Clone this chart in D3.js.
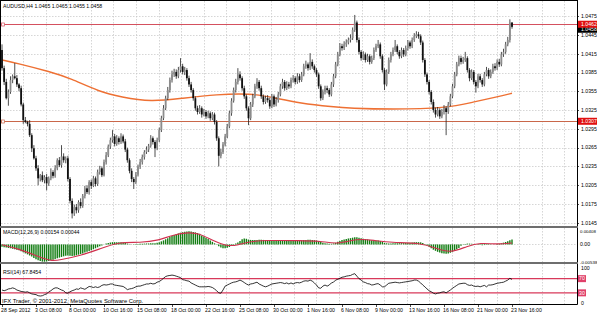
<!DOCTYPE html>
<html>
<head>
<meta charset="utf-8">
<script src="https://cdnjs.cloudflare.com/ajax/libs/d3/7.8.5/d3.min.js"></script>
<style>
  body { margin: 0; background: #fff; }
  svg { display: block; font-family: "Liberation Sans", Arial, sans-serif; }
  .lbl { font-size: 5.2px; fill: #000; }
  .grid line { stroke: #c4c4c4; stroke-width: 0.7; stroke-dasharray: 1.5,1.5; }
</style>
</head>
<body>
<div id="chart"></div>
<script>
// ---- data (prices stored as pips above 1.0000) ----
const symbolTitle = "AUDUSD,H4  1.0465 1.0465 1.0455 1.0458";
const firstOpen = 421;
const closes = [
392,370,344,354,373,379,376,366,360,334, 309,306,303,285,264,248,232,216,221,213,
218,208,216,226,220,232,245,237,251,245, 248,215,180,160,170,165,178,172,188,200,
194,210,204,216,207,226,232,221,242,253, 267,277,283,271,280,274,283,275,262,245,
228,215,210,222,235,242,250,258,262,268, 280,274,264,277,293,312,328,344,357,373,
382,386,379,389,395,386,389,376,366,357, 344,328,322,328,318,322,315,320,312,318,
306,280,252,258,270,283,299,320,340,357, 370,382,376,360,347,328,312,334,347,363,
370,360,347,338,344,341,331,347,334,341, 350,363,370,360,366,363,373,376,370,379,
373,382,395,398,392,402,395,389,382,363, 344,354,360,357,350,366,379,398,414,427,
424,430,433,437,440,453,465,437,418,408, 414,405,411,402,408,421,427,430,411,389,
366,386,405,414,421,427,418,411,421,414, 424,433,427,437,443,446,443,433,405,382,
370,354,338,325,318,325,315,322,328,322, 334,347,363,382,398,408,402,405,408,389,
376,386,370,363,379,373,366,382,389,379, 386,395,392,402,398,414,418,430,437,465,
458];
const highs = [
430,396,375,358,379,382,400,381,368,364, 337,314,308,309,288,269,252,237,223,227,
221,223,219,232,229,237,248,250,269,256, 251,252,218,184,174,175,181,184,191,204,
205,213,214,220,219,230,236,235,246,258, 270,281,293,287,285,283,288,286,279,265,
248,232,218,226,238,247,254,261,267,271, 285,283,277,281,297,316,333,348,362,377,
388,391,390,394,408,399,394,392,380,370, 360,347,332,333,331,327,325,324,323,322,
321,309,283,263,274,287,303,324,344,361, 375,392,387,379,364,350,331,338,351,367,
376,373,364,350,348,349,345,351,350,346, 354,367,375,373,371,370,377,381,379,384,
383,386,399,404,401,416,406,398,392,385, 366,358,364,364,360,370,383,402,418,432,
431,435,438,441,446,457,477,468,441,421, 419,417,415,414,412,425,431,437,433,414,
392,390,409,418,425,437,430,421,425,424, 428,437,436,441,448,451,450,446,436,408,
385,373,357,342,329,330,328,327,333,331, 338,351,367,386,402,412,412,410,418,411,
392,390,389,373,383,383,376,386,394,392, 390,399,400,406,407,418,423,434,442,470,
465];
const lows = [
388,365,342,332,351,368,374,362,355,331, 303,304,299,282,258,246,228,205,211,210,
208,197,204,213,216,217,229,234,233,241, 240,211,176,152,156,160,161,168,169,184,
191,190,199,202,203,204,222,218,219,238, 250,263,273,267,268,270,271,272,258,241,
224,210,199,207,219,231,238,246,255,258, 265,270,250,261,274,290,309,325,341,353,
369,378,375,376,385,382,381,372,362,353, 340,324,318,319,313,315,311,312,308,309,
302,276,235,248,255,267,280,296,316,337, 353,366,372,356,343,324,301,309,330,344,
359,356,343,334,335,337,327,328,330,331, 337,347,359,356,357,359,360,369,366,367,
369,370,379,391,388,389,391,385,378,359, 340,341,350,352,346,347,362,376,395,411,
420,421,426,430,433,437,450,433,414,404, 405,401,402,398,399,405,418,424,407,385,
357,363,383,401,411,418,414,407,408,410, 411,420,423,424,434,440,439,429,401,378,
366,350,334,321,313,315,311,312,318,285, 319,331,344,360,379,395,398,399,402,385,
371,373,366,353,360,369,362,363,379,375, 376,383,388,389,394,395,410,415,427,433,
455];
// orange moving average, read at points along its length [bar, pips]
const maPoints = [[0,405],[7,400],[23,386],[32,376],[46,354],[56,346],[70,338],[85,344],
  [101,350],[117,352],[129,344],[140,336],[156,330],[164,328],[183,326],[209,328],
  [222,338],[233,346],[240,352]];
const levelLines = [1.0462, 1.0307];
const bidPrice = 1.0458;
const priceTicks = [1.0475,1.0445,1.0415,1.0385,1.0355,1.0325,1.0295,1.0265,1.0235,1.0205,1.0175,1.0145];

// MACD(12,26,9) histogram in 1e-5 units, per bar
const macdMain = [
-75,-85,-100,-110,-120,-135,-150,-165,-185,-210, -245,-280,-310,-345,-380,-420,-460,-495,-520,-535,
-538,-530,-515,-495,-475,-455,-430,-410,-390,-370, -350,-345,-355,-360,-355,-340,-320,-300,-280,-255,
-230,-205,-180,-150,-120,-90,-60,-30,0,25, 45,60,70,70,68,65,65,60,45,25,
10,5,5,10,15,18,20,25,30,30, 35,40,40,50,65,95,125,160,195,230,
265,295,315,340,365,380,395,405,408,400, 390,375,355,330,280,245,205,165,125,80,
35,-10,-60,-100,-120,-120,-105,-80,-50,-15, 25,60,110,160,185,175,150,140,135,135,
140,145,145,140,135,130,120,115,110,105, 105,110,115,115,118,120,122,125,125,128,
128,130,135,140,142,145,140,132,120,100, 75,55,40,30,20,20,30,50,80,110,
135,155,170,185,195,210,225,220,210,195, 180,165,155,140,130,125,120,118,105,80,
50,35,30,30,35,40,40,38,40,40, 45,50,52,58,65,70,70,65,45,10,
-30,-75,-120,-165,-200,-230,-255,-275,-285,-290, -280,-260,-230,-190,-150,-110,-40,-10,15,25,
25,20,10,-5,-15,-20,-25,-20,-15,-15, -10,-5,0,10,20,35,55,75,100,130,
154];
// signal line read at points [bar, 1e-5 units]
const macdSignal = [[0,-10],[8,-140],[18,-400],[23,-514],[27,-490],[37,-350],[46,-140],[55,75],
  [65,50],[74,128],[80,290],[88,380],[93,340],[99,128],[106,-64],[111,-20],[117,96],[125,128],
  [140,120],[150,107],[158,0],[167,182],[175,128],[183,53],[197,53],[205,-140],[211,-267],
  [219,-53],[225,53],[233,0],[240,44]];
const macdTicks = [0.00408, 0, -0.00538];
const macdTickText = ["0.00408", "0.00", "-0.00538"];

// RSI(14) per bar
const rsi = [
38,36,38,41,42,44,42,38,36,34, 33,32,33,30,27,26,25,22,21,22,
25,27,33,36,41,44,44,41,38,36, 30,29,33,36,38,41,40,44,42,40,
44,48,47,45,47,45,47,51,53,52, 53,55,55,52,51,50,49,48,44,39,
41,42,44,47,49,49,51,53,55,55, 57,55,56,60,62,66,71,76,78,79,
80,79,77,75,73,67,66,64,63,58, 55,52,49,47,47,47,47,48,47,45,
41,36,30,29,38,49,52,55,58,60, 61,63,66,63,59,55,52,55,56,58,
60,55,52,49,47,49,52,55,56,57, 58,59,58,56,58,55,58,55,58,59,
58,60,63,64,63,66,63,58,52,44, 43,49,52,49,52,58,60,66,68,71,
74,75,77,78,79,82,84,77,70,66, 61,59,56,55,52,53,55,56,52,47,
47,52,57,58,59,60,59,58,59,60, 61,62,63,64,66,66,63,58,52,47,
41,36,33,29,27,29,30,32,33,30, 34,38,43,47,51,55,56,57,57,53,
51,52,49,48,49,47,49,51,47,52, 52,53,55,57,58,59,60,63,66,71,
67.8454];
const rsiLevels = [70, 30];

const timeLabels = ["28 Sep 2012","3 Oct 08:00","8 Oct 00:00","10 Oct 16:00","15 Oct 08:00",
  "18 Oct 00:00","22 Oct 16:00","25 Oct 08:00","30 Oct 00:00","1 Nov 16:00","6 Nov 08:00",
  "9 Nov 00:00","13 Nov 16:00","16 Nov 08:00","21 Nov 00:00","23 Nov 16:00"];
const timeLabelBars = [0,16,32,48,64,80,96,112,128,144,160,176,192,208,224,240];

// ---- layout ----
const W = 597, H = 316;
const axisX = 577;
const gridStep = 22.55;   // vertical grid spacing in px
const main = {top: 1, bottom: 226};
const macdP = {top: 228, bottom: 262};
const rsiP = {top: 264, bottom: 304};

const svg = d3.select('#chart').append('svg').attr('width', W).attr('height', H);

const pip = v => 1 + v / 10000;
const x = d3.scaleLinear().domain([0, 240]).range([2, 512]);
const y = d3.scaleLinear().domain([1.0145, 1.0475]).range([222.8, 16.2]);
const yM = d3.scaleLinear().domain([-0.00538, 0.00408]).range([261.7, 231.3]);
const yR = d3.scaleLinear().domain([0, 100]).range([303.5, 268]);

const bars = closes.map((c, i) => ({
  i: i, o: pip(i === 0 ? firstOpen : closes[i - 1]), c: pip(c), h: pip(highs[i]), l: pip(lows[i])
}));

// grids
const grid = svg.append('g').attr('class', 'grid');
grid.selectAll('.hg').data(priceTicks).enter().append('line')
  .attr('x1', 1).attr('x2', axisX).attr('y1', d => Math.round(y(d)) + 0.5).attr('y2', d => Math.round(y(d)) + 0.5);
const vGrid = d3.range(1, 26).map(k => Math.round(0.7 + k * gridStep) + 0.5);
[[main.top, main.bottom], [macdP.top, macdP.bottom], [rsiP.top, rsiP.bottom]].forEach(p => {
  grid.append('g').selectAll('line').data(vGrid).enter().append('line')
    .attr('x1', d => d).attr('x2', d => d).attr('y1', p[0]).attr('y2', p[1]);
});
grid.append('line').attr('x1', 1).attr('x2', axisX)
  .attr('y1', Math.round(yM(0)) + 0.5).attr('y2', Math.round(yM(0)) + 0.5);

// level lines
const levelColors = ['#d4505e', '#c9674a'];
levelLines.forEach((v, k) => {
  const yy = Math.round(y(v)) + 0.5;
  svg.append('line').attr('x1', 1).attr('x2', axisX).attr('y1', yy).attr('y2', yy)
    .attr('stroke', levelColors[k]).attr('stroke-width', 1);
  svg.append('rect').attr('x', 1.5).attr('y', yy - 1.5).attr('width', 3).attr('height', 3)
    .attr('fill', '#fff').attr('stroke', levelColors[k]).attr('stroke-width', 0.7);
});

// moving average
svg.append('path').datum(maPoints)
  .attr('d', d3.line().x(d => x(d[0])).y(d => y(pip(d[1]))).curve(d3.curveBasis))
  .attr('fill', 'none').attr('stroke', '#ee7033').attr('stroke-width', 1.4);

// candles
const cg = svg.append('g');
cg.selectAll('.wick').data(bars).enter().append('line')
  .attr('x1', d => x(d.i)).attr('x2', d => x(d.i))
  .attr('y1', d => y(d.h)).attr('y2', d => y(d.l))
  .attr('stroke', '#222').attr('stroke-width', 0.8);
cg.selectAll('.body').data(bars).enter().append('rect')
  .attr('x', d => x(d.i) - 0.9).attr('width', 1.8)
  .attr('y', d => y(Math.max(d.o, d.c)))
  .attr('height', d => Math.max(0.6, Math.abs(y(d.o) - y(d.c))))
  .attr('fill', d => d.c >= d.o ? '#8c8c8c' : '#111');

// MACD
svg.append('g').selectAll('line').data(macdMain).enter().append('line')
  .attr('x1', (d, i) => x(i)).attr('x2', (d, i) => x(i))
  .attr('y1', yM(0)).attr('y2', d => yM(d / 100000))
  .attr('stroke', '#127d12').attr('stroke-width', 1.4);
svg.append('path').datum(macdSignal)
  .attr('d', d3.line().x(d => x(d[0])).y(d => yM(d[1] / 100000)).curve(d3.curveBasis))
  .attr('fill', 'none').attr('stroke', '#d0304e').attr('stroke-width', 1.1);

// RSI
rsiLevels.forEach(v => {
  svg.append('line').attr('x1', 1).attr('x2', axisX).attr('y1', yR(v)).attr('y2', yR(v))
    .attr('stroke', '#d8385a').attr('stroke-width', 1.1);
});
svg.append('path').datum(rsi)
  .attr('d', d3.line().x((d, i) => x(i)).y(d => yR(d)))
  .attr('fill', 'none').attr('stroke', '#000').attr('stroke-width', 0.8);

// frames and separators
const fr = svg.append('g').attr('stroke', '#000').attr('fill', 'none');
fr.append('line').attr('x1', axisX + 0.5).attr('x2', axisX + 0.5).attr('y1', 0).attr('y2', rsiP.bottom + 0.5);
fr.append('line').attr('x1', 0.5).attr('x2', 0.5).attr('y1', 0).attr('y2', rsiP.bottom + 0.5);
fr.append('line').attr('x1', 0).attr('x2', axisX).attr('y1', 0.5).attr('y2', 0.5);
fr.append('line').attr('x1', 0).attr('x2', axisX + 0.5).attr('y1', rsiP.bottom + 0.5).attr('y2', rsiP.bottom + 0.5);
[main.bottom + 1, macdP.bottom + 1].forEach(v => {
  svg.append('rect').attr('x', 0).attr('y', v - 1).attr('width', axisX + 1).attr('height', 2).attr('fill', '#6e6e6e');
});

// price axis
const ax = svg.append('g');
ax.selectAll('text').data(priceTicks).enter().append('text').attr('class', 'lbl')
  .attr('x', 581).attr('y', d => y(d) + 1.8).text(d => d.toFixed(4));
ax.selectAll('.tk').data(priceTicks).enter().append('line')
  .attr('x1', axisX).attr('x2', axisX + 2).attr('y1', d => Math.round(y(d)) + 0.5).attr('y2', d => Math.round(y(d)) + 0.5)
  .attr('stroke', '#000').attr('stroke-width', 0.7);

function tag(val, yy, bg) {
  svg.append('rect').attr('x', 578).attr('y', yy - 3.6).attr('width', 19).attr('height', 7).attr('fill', bg);
  svg.append('text').attr('class', 'lbl').attr('x', 581).attr('y', yy + 1.8)
    .style('fill', '#fff').text(val);
}
tag(bidPrice.toFixed(4), y(bidPrice) + 2.5, '#000');
levelLines.forEach(v => tag(v.toFixed(4), y(v), '#e01010'));

// MACD axis
macdTicks.forEach((v, k) => {
  const s = macdTickText[k];
  svg.append('text').attr('class', 'lbl').attr('x', 580).attr('y', yM(v) + 1.8)
    .style('font-size', s.length > 5 ? '4.4px' : null).text(s);
});
// RSI axis
[100, 0].forEach(v => {
  svg.append('text').attr('class', 'lbl').attr('x', 581).attr('y', yR(v) + 1.8).text(v);
});
rsiLevels.forEach(v => {
  svg.append('rect').attr('x', 578).attr('y', yR(v) - 3.5).attr('width', 8).attr('height', 7).attr('fill', '#e0406a');
  svg.append('text').attr('class', 'lbl').attr('x', 579).attr('y', yR(v) + 1.8).style('fill', '#fff').text(v);
});

// time axis
svg.append('g').selectAll('text').data(timeLabels).enter().append('text').attr('class', 'lbl')
  .attr('x', (d, i) => x(timeLabelBars[i]) - 1).attr('y', 312).text(d => d);
svg.append('g').selectAll('line').data(timeLabelBars).enter().append('line')
  .attr('x1', d => Math.round(x(d)) + 0.5).attr('x2', d => Math.round(x(d)) + 0.5)
  .attr('y1', rsiP.bottom).attr('y2', rsiP.bottom + 3).attr('stroke', '#000').attr('stroke-width', 0.7);

// panel titles
svg.append('text').attr('class', 'lbl').attr('x', 3).attr('y', 8).text(symbolTitle);
svg.append('text').attr('class', 'lbl').attr('x', 3).attr('y', 234).text('MACD(12,26,9) 0.00154 0.00044');
svg.append('text').attr('class', 'lbl').attr('x', 3).attr('y', 273.5).text('RSI(14) 67.8454');
svg.append('text').attr('class', 'lbl').attr('x', 2).attr('y', 302.5).style('font-size', '5.9px')
  .text('IFX Trader, \u00a9 2001-2012, MetaQuotes Software Corp.');
</script>
</body>
</html>
